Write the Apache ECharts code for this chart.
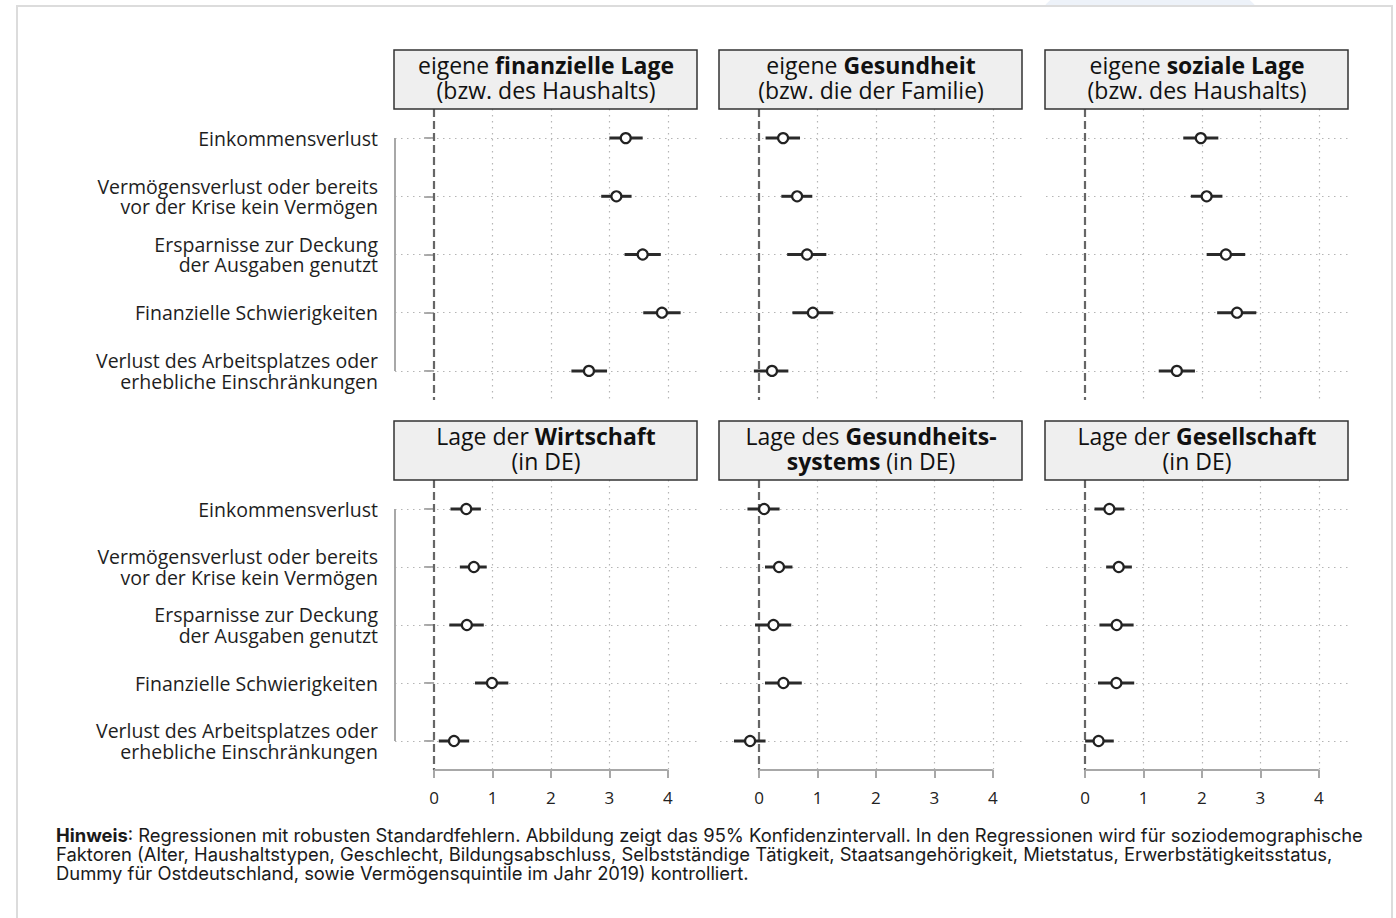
<!DOCTYPE html>
<html><head><meta charset="utf-8">
<script src="https://cdn.jsdelivr.net/npm/echarts@6/dist/echarts.min.js"></script>
<style>html,body{margin:0;padding:0;background:#fff}#c{width:1396px;height:918px}</style>
</head><body><div id="c"></div>
<script>
// ---------- data ----------
const categories = [
  'Einkommensverlust',
  'Vermögensverlust oder bereits\nvor der Krise kein Vermögen',
  'Ersparnisse zur Deckung\nder Ausgaben genutzt',
  'Finanzielle Schwierigkeiten',
  'Verlust des Arbeitsplatzes oder\nerhebliche Einschränkungen'
];
const xTicks = [0, 1, 2, 3, 4];
const rowIndex = [1, 2, 3, 4, 5];

const panelTitles = [
  '{n|eigene }{b|finanzielle Lage}\n{n|(bzw. des Haushalts)}',
  '{n|eigene }{b|Gesundheit}\n{n|(bzw. die der Familie)}',
  '{n|eigene }{b|soziale Lage}\n{n|(bzw. des Haushalts)}',
  '{n|Lage der }{b|Wirtschaft}\n{n|(in DE)}',
  '{n|Lage des }{b|Gesundheits-}\n{b|systems}{n| (in DE)}',
  '{n|Lage der }{b|Gesellschaft}\n{n|(in DE)}'
];

const estFinanz = [3.28, 3.12, 3.57, 3.90, 2.65];
const loFinanz  = [3.00, 2.86, 3.26, 3.58, 2.35];
const hiFinanz  = [3.57, 3.38, 3.88, 4.22, 2.96];

const estGesund = [0.41, 0.65, 0.82, 0.92, 0.22];
const loGesund  = [0.11, 0.38, 0.48, 0.57, -0.09];
const hiGesund  = [0.70, 0.91, 1.15, 1.27, 0.50];

const estSozial = [1.98, 2.08, 2.41, 2.60, 1.57];
const loSozial  = [1.68, 1.81, 2.08, 2.26, 1.26];
const hiSozial  = [2.28, 2.35, 2.74, 2.93, 1.88];

const estWirt = [0.55, 0.68, 0.56, 0.99, 0.34];
const loWirt  = [0.28, 0.44, 0.26, 0.70, 0.08];
const hiWirt  = [0.80, 0.90, 0.85, 1.27, 0.60];

const estGsys = [0.085, 0.34, 0.245, 0.415, -0.155];
const loGsys  = [-0.20, 0.10, -0.07, 0.10, -0.43];
const hiGsys  = [0.35, 0.57, 0.55, 0.73, 0.11];

const estGes = [0.415, 0.575, 0.54, 0.535, 0.23];
const loGes  = [0.16, 0.36, 0.245, 0.22, 0.00];
const hiGes  = [0.67, 0.80, 0.83, 0.84, 0.49];

const noteText = '{b|Hinweis}: Regressionen mit robusten Standardfehlern. Abbildung zeigt das 95% Konfidenzintervall. In den Regressionen wird für soziodemographische\nFaktoren (Alter, Haushaltstypen, Geschlecht, Bildungsabschluss, Selbstständige Tätigkeit, Staatsangehörigkeit, Mietstatus, Erwerbstätigkeitsstatus,\nDummy für Ostdeutschland, sowie Vermögensquintile im Jahr 2019) kontrolliert.';

// ---------- layout ----------
const FONT = '"Open Sans", "Noto Sans", sans-serif';
const NOTE_FONT = 'Inter, "Open Sans", sans-serif';
const X_MIN = -0.67, X_MAX = 4.5;
const colLeft = [395, 720, 1046];
const panelW = 302;
const rowTop = [109, 480];
const rowH = [291, 290];
const stripH = 59;

const panels = [
  {est: estFinanz, lo: loFinanz, hi: hiFinanz},
  {est: estGesund, lo: loGesund, hi: hiGesund},
  {est: estSozial, lo: loSozial, hi: hiSozial},
  {est: estWirt, lo: loWirt, hi: hiWirt},
  {est: estGsys, lo: loGsys, hi: hiGsys},
  {est: estGes, lo: loGes, hi: hiGes}
];

const grid = [], xAxis = [], yAxis = [], series = [], graphic = [];

graphic.push({type: 'ellipse', z: -20, shape: {cx: 1150, cy: 30, rx: 115, ry: 60},
  style: {fill: '#edf2f9'}});
graphic.push({type: 'rect', z: -10, shape: {x: 17, y: 6, width: 1375, height: 940},
  style: {fill: '#fff', stroke: '#dcdcdc', lineWidth: 2}});

panels.forEach((p, k) => {
  const r = Math.floor(k / 3), c = k % 3;
  const bottomRow = r === 1, leftCol = c === 0;
  grid.push({left: colLeft[c], top: rowTop[r], width: panelW, height: rowH[r], containLabel: false});
  xAxis.push({
    gridIndex: k, type: 'value', min: X_MIN, max: X_MAX,
    axisLine: {show: false}, splitLine: {show: false},
    axisTick: {show: bottomRow, customValues: xTicks, length: 8, lineStyle: {color: '#a8a8a8', width: 2}},
    axisLabel: {show: bottomRow, customValues: xTicks, margin: 19, fontSize: 17, color: '#222', fontFamily: FONT}
  });
  yAxis.push({
    gridIndex: k, type: 'value', min: 0.5, max: 5.5, inverse: true,
    axisLine: {show: false}, splitLine: {show: false},
    axisTick: {show: leftCol, customValues: rowIndex, length: 10, lineStyle: {color: '#a8a8a8', width: 2}},
    axisLabel: {show: leftCol, customValues: rowIndex, margin: 17, fontSize: 19.5, lineHeight: 20.5,
      color: '#1e1e1e', fontFamily: FONT, align: 'right',
      formatter: v => categories[Math.round(v) - 1]}
  });

  const ml = [];
  xTicks.filter(v => v !== 0).forEach(v => ml.push({xAxis: v, lineStyle: {type: [1.5, 4.5], color: '#b5b5b5', width: 1.2}}));
  rowIndex.forEach(v => ml.push({yAxis: v, lineStyle: {type: [1.5, 4.5], color: '#b5b5b5', width: 1.2}}));
  ml.push({xAxis: 0, lineStyle: {type: [8, 4], color: '#666', width: 2.2}});
  if (bottomRow) ml.push([{coord: [xTicks[0], 5.5], lineStyle: {type: 'solid', color: '#a8a8a8', width: 2}},
                          {coord: [xTicks[xTicks.length - 1], 5.5]}]);
  if (leftCol) ml.push([{coord: [X_MIN, rowIndex[0]], lineStyle: {type: 'solid', color: '#a8a8a8', width: 2}},
                        {coord: [X_MIN, rowIndex[rowIndex.length - 1]]}]);

  series.push({
    type: 'scatter', xAxisIndex: k, yAxisIndex: k, data: [], z: 1, silent: true, clip: false,
    markLine: {silent: true, z: 1, symbol: ['none', 'none'], label: {show: false}, animation: false, data: ml}
  });
  series.push({
    type: 'custom', xAxisIndex: k, yAxisIndex: k, z: 10, silent: true, clip: false,
    data: p.lo.map((lo, i) => [lo, p.hi[i], rowIndex[i]]),
    encode: {x: [0, 1], y: 2},
    renderItem: (params, api) => {
      const a = api.coord([api.value(0), api.value(2)]);
      const b = api.coord([api.value(1), api.value(2)]);
      return {type: 'line', z2: 10, shape: {x1: a[0], y1: a[1], x2: b[0], y2: b[1]},
        style: {stroke: '#2a2a2a', lineWidth: 3, lineDash: null}};
    }
  });
  series.push({
    type: 'scatter', xAxisIndex: k, yAxisIndex: k, z: 11, silent: true, clip: false,
    data: p.est.map((v, i) => [v, rowIndex[i]]),
    symbol: 'circle', symbolSize: 10,
    itemStyle: {color: '#fff', borderColor: '#222', borderWidth: 2.2, opacity: 1}
  });

  graphic.push({type: 'rect', z: 5, shape: {x: colLeft[c] - 1, y: rowTop[r] - stripH, width: panelW + 1, height: stripH},
    style: {fill: '#efefef', stroke: '#333', lineWidth: 1.5}});
  graphic.push({type: 'text', z: 6, x: colLeft[c] + panelW / 2, y: rowTop[r] - stripH / 2 - 2,
    style: {text: panelTitles[k], align: 'center', verticalAlign: 'middle', textAlign: 'center', textVerticalAlign: 'middle',
      fill: '#111',
      rich: {
        n: {fontSize: 23, lineHeight: 25, fontFamily: FONT, fill: '#111', color: '#111'},
        b: {fontSize: 23, lineHeight: 25, fontFamily: FONT, fontWeight: 'bold', fill: '#111', color: '#111'}
      }}});
});

const chart = echarts.init(document.getElementById('c'), null, {renderer: 'svg'});
chart.setOption({
  animation: false,
  backgroundColor: '#fff',
  title: [{
    text: noteText, left: 51, top: 820,
    textStyle: {fontSize: 18.4, lineHeight: 19, fontFamily: NOTE_FONT, color: '#1a1a1a', fontWeight: 'normal',
      rich: {b: {fontWeight: 'bold', fontSize: 18.4, fontFamily: NOTE_FONT, color: '#1a1a1a', lineHeight: 19}}}
  }],
  grid, xAxis, yAxis, series, graphic
});
</script>
</body></html>
